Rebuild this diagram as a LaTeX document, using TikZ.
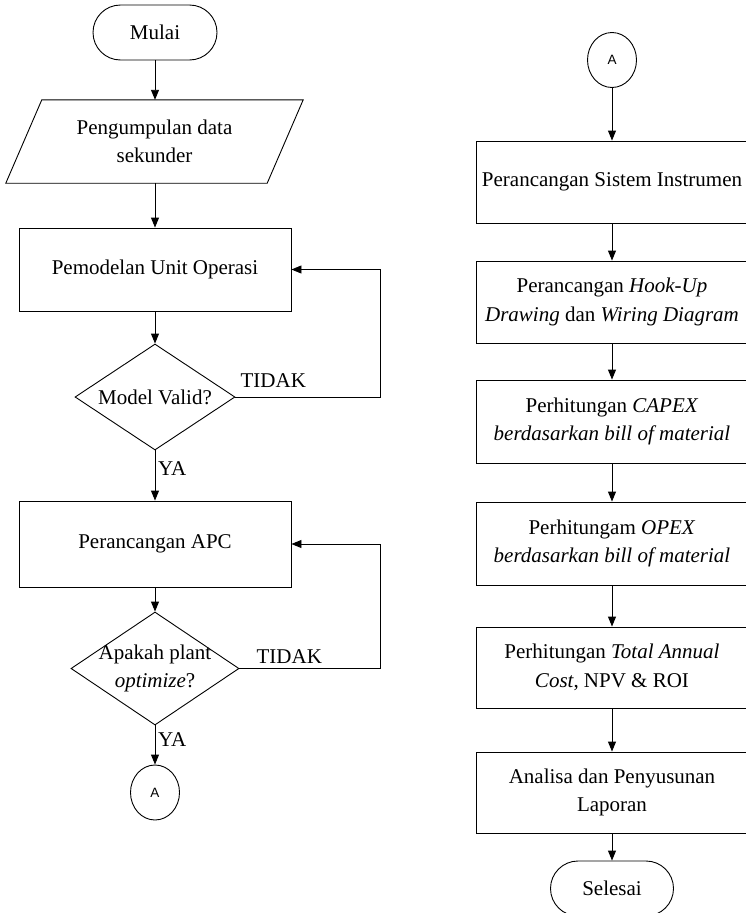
\documentclass[tikz,border=0pt]{standalone}
\usepackage{fontspec}
\setmainfont{Liberation Serif}
\newfontfamily\connfont{Liberation Sans}
\usetikzlibrary{shapes.geometric,shapes.misc,arrows.meta}
\begin{document}
\begin{tikzpicture}[x=1pt,y=-1pt,
  every node/.style={font=\fontsize{21}{28.5}\selectfont},
  outlined/.style={draw=black, line width=0.9pt},
  proc/.style={outlined, rectangle, minimum width=272pt, minimum height=83pt, align=center, inner sep=0pt},
  term/.style={outlined, rounded rectangle, minimum width=124pt, minimum height=55pt, inner sep=0pt},
  conn/.style={outlined, ellipse, minimum width=49pt, minimum height=55pt, inner sep=0pt, font=\connfont\fontsize{13.5}{16}\selectfont},
  decision/.style={outlined, diamond, inner sep=0pt},
  arr/.style={line width=0.9pt, -{Triangle[length=10pt,width=8pt]}},
  flow/.style={line width=0.9pt},
  lbl/.style={anchor=base west, inner sep=0pt}
]
\useasboundingbox (0,0) rectangle (745,913);

% ---- left column ----
\node[term] (mulai) at (155,32.5) {Mulai};
\node[minimum width=297pt, minimum height=83pt, inner sep=0pt, align=center] (data) at (154.5,141.5) {Pengumpulan data\\sekunder};
\draw[outlined] ([xshift=36pt]data.north west) -- (data.north east) -- ([xshift=-36pt]data.south east) -- (data.south west) -- cycle;
\node[proc] (b1) at (155,269.5) {Pemodelan Unit Operasi};
\node[decision, minimum width=160pt, minimum height=106pt,
      label={[align=center]center:Model Valid?}] (d1) at (155,397) {};
\node[proc, minimum height=86pt] (b2) at (155,544) {Perancangan APC};
\node[decision, minimum width=168pt, minimum height=113pt,
      label={[align=center]center:Apakah plant\\\textit{optimize}?}] (d2) at (155,668.5) {};
\node[conn] (a1) at (155,792.5) {A};

\draw[arr] (mulai.south) -- (mulai.south |- data.north);
\draw[arr] (b1.north |- data.south) -- (b1.north);
\draw[arr] (b1) -- (d1);
\draw[arr] (d1) -- (b2);
\draw[arr] (b2) -- (d2);
\draw[arr] (d2) -- (a1);

\coordinate (r1) at (380,269.5);
\coordinate (r2) at (380,544);
\draw[arr] (d1.east) -| (r1) -- (b1.east);
\draw[arr] (d2.east) -| (r2) -- (b2.east);

\node[lbl] at ([xshift=5pt,yshift=10pt]d1.east) {TIDAK};
\node[lbl] at ([xshift=17pt,yshift=5pt]d2.east) {TIDAK};
\node[lbl] at ([xshift=3pt,yshift=-25pt]d1.south) {YA};
\node[lbl] at ([xshift=3pt,yshift=-21pt]d2.south) {YA};

% ---- right column ----
\node[conn] (a2) at (612,60) {A};
\node[proc, minimum height=82pt] (s1) at (612,182) {Perancangan Sistem Instrumen};
\node[proc, minimum height=82pt] (s2) at (612,302) {Perancangan \textit{Hook-Up}\\\textit{Drawing} dan \textit{Wiring Diagram}};
\node[proc] (s3) at (612,421.5) {Perhitungan \textit{CAPEX}\\\textit{berdasarkan bill of material}};
\node[proc] (s4) at (612,543.5) {Perhitungam \textit{OPEX}\\\textit{berdasarkan bill of material}};
\node[proc, minimum height=81pt] (s5) at (612,667.5) {Perhitungan \textit{Total Annual}\\\textit{Cost}, NPV \& ROI};
\node[proc, minimum height=81pt] (s6) at (612,792.5) {Analisa dan Penyusunan\\Laporan};
\node[term, minimum width=123pt] (selesai) at (612,888.5) {Selesai};

\draw[arr] (a2) -- (s1);
\draw[arr] (s1) -- (s2);
\draw[arr] (s2) -- (s3);
\draw[arr] (s3) -- (s4);
\draw[arr] (s4) -- (s5);
\draw[arr] (s5) -- (s6);
\draw[arr] (s6) -- (selesai);
\end{tikzpicture}
\end{document}
